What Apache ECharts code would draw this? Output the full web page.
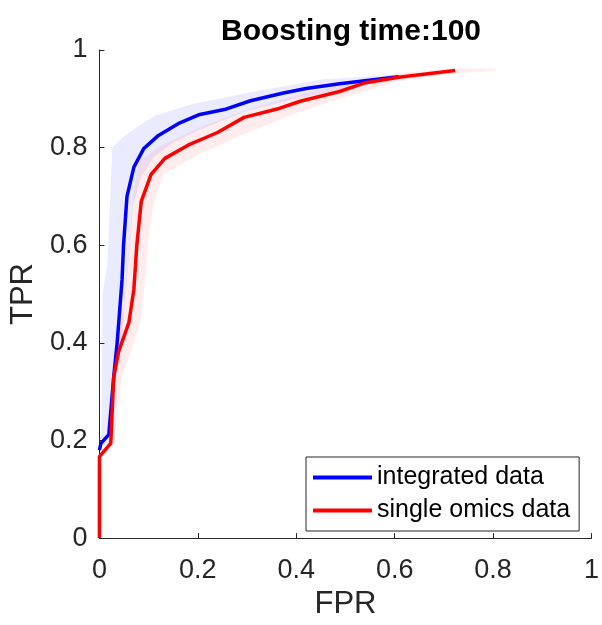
<!DOCTYPE html>
<html>
<head>
<meta charset="utf-8">
<script src="https://cdn.jsdelivr.net/npm/echarts@6/dist/echarts.min.js"></script>
<style>
  html, body { margin: 0; padding: 0; background: #fff; }
  #chart { width: 602px; height: 625px; }
</style>
</head>
<body>
<div id="chart"></div>
<script>
// mean ROC curves, [FPR, TPR]
const integrated = [
  [0, 0.18], [0.003, 0.194], [0.019, 0.212], [0.029, 0.33], [0.036, 0.40],
  [0.046, 0.53], [0.049, 0.60], [0.056, 0.70], [0.070, 0.76], [0.090, 0.798],
  [0.12, 0.825], [0.16, 0.849], [0.204, 0.868], [0.254, 0.878], [0.307, 0.896],
  [0.374, 0.912], [0.42, 0.921], [0.488, 0.931], [0.608, 0.945]
]
const singleOmics = [
  [0, 0], [0, 0.167], [0.023, 0.194], [0.029, 0.33], [0.039, 0.382],
  [0.060, 0.442], [0.070, 0.51], [0.076, 0.60], [0.085, 0.69], [0.105, 0.745],
  [0.133, 0.778], [0.18, 0.805], [0.24, 0.831], [0.294, 0.862], [0.361, 0.879],
  [0.408, 0.895], [0.488, 0.915], [0.541, 0.933], [0.608, 0.944], [0.723, 0.958]
]
// shaded spread around each curve
const integratedUpper = [
  [0, 0.19], [0.004, 0.22], [0.006, 0.50], [0.016, 0.56], [0.022, 0.70],
  [0.026, 0.80], [0.046, 0.82], [0.08, 0.845], [0.113, 0.866], [0.187, 0.889],
  [0.32, 0.916], [0.454, 0.94], [0.608, 0.95]
]
const integratedLower = [
  [0.025, 0.19], [0.03, 0.30], [0.045, 0.40], [0.058, 0.55], [0.068, 0.68],
  [0.085, 0.74], [0.11, 0.78], [0.15, 0.81], [0.2, 0.835], [0.3, 0.875],
  [0.4, 0.9], [0.5, 0.92], [0.608, 0.94]
]
const singleUpper = [
  [0.02, 0.19], [0.026, 0.33], [0.034, 0.40], [0.05, 0.47], [0.06, 0.6],
  [0.068, 0.7], [0.08, 0.772], [0.126, 0.805], [0.2, 0.84], [0.3, 0.878],
  [0.408, 0.91], [0.5, 0.93], [0.608, 0.953], [0.723, 0.962], [0.805, 0.962]
]
const singleLower = [
  [0.03, 0.19], [0.045, 0.33], [0.07, 0.40], [0.085, 0.45], [0.095, 0.55],
  [0.1, 0.62], [0.11, 0.685], [0.13, 0.745], [0.187, 0.778], [0.287, 0.825],
  [0.387, 0.866], [0.488, 0.9], [0.608, 0.936], [0.723, 0.952], [0.805, 0.958]
]
const seriesNames = ['integrated data', 'single omics data']

const font = 'Liberation Sans, Arial, Helvetica, sans-serif'
const axisColor = '#262626'

function band(upper, lower, fill) {
  const outline = upper.concat(lower.slice().reverse())
  return {
    type: 'custom',
    silent: true,
    clip: true,
    data: [[0, 0]],
    renderItem: function (params, api) {
      return {
        type: 'polygon',
        shape: { points: outline.map(p => api.coord(p)) },
        style: { fill: fill }
      }
    }
  }
}

const axisCommon = {
  type: 'value',
  min: 0,
  max: 1,
  interval: 0.2,
  nameLocation: 'middle',
  nameTextStyle: { fontFamily: font, fontSize: 31, color: axisColor },
  axisLine: { show: true, lineStyle: { color: axisColor, width: 1 } },
  axisTick: { show: true, inside: true, length: 5, lineStyle: { color: axisColor } },
  axisLabel: {
    fontFamily: font, fontSize: 27, color: axisColor,
    showMinLabel: true, showMaxLabel: true,
    formatter: v => String(Math.round(v * 10) / 10)
  },
  splitLine: { show: false }
}

const myChart = echarts.init(document.getElementById('chart'))
myChart.setOption({
  animation: false,
  title: {
    text: 'Boosting time:100',
    left: 346,
    textAlign: 'center',
    top: 12,
    textStyle: { fontFamily: font, fontSize: 30, fontWeight: 'bold', color: '#000' }
  },
  grid: { left: 97, right: 7, top: 50, bottom: 79, containLabel: false },
  xAxis: Object.assign({}, axisCommon, {
    name: 'FPR', nameGap: 48,
    axisLabel: Object.assign({}, axisCommon.axisLabel, { margin: 19 })
  }),
  yAxis: Object.assign({}, axisCommon, {
    name: 'TPR', nameGap: 55,
    axisLabel: Object.assign({}, axisCommon.axisLabel, { margin: 12 })
  }),
  legend: {
    data: seriesNames.map(n => ({ name: n, icon: 'rect' })),
    orient: 'vertical',
    left: 306,
    top: 457,
    padding: [8, 9, 8, 7],
    itemGap: 8,
    itemWidth: 59,
    itemHeight: 4,
    borderColor: axisColor,
    borderWidth: 1,
    backgroundColor: '#fff',
    textStyle: { fontFamily: font, fontSize: 25, color: '#000', lineHeight: 24, padding: [0, 0, 0, 0] }
  },
  series: [
    band(integratedUpper, integratedLower, 'rgba(0,0,255,0.08)'),
    band(singleUpper, singleLower, 'rgba(255,0,0,0.07)'),
    {
      name: seriesNames[0], type: 'line', data: integrated,
      symbol: 'none', color: '#0000ff',
      lineStyle: { width: 3.5, color: '#0000ff' }
    },
    {
      name: seriesNames[1], type: 'line', data: singleOmics,
      symbol: 'none', color: '#ff0000',
      lineStyle: { width: 3.5, color: '#ff0000' }
    }
  ]
})
</script>
</body>
</html>
